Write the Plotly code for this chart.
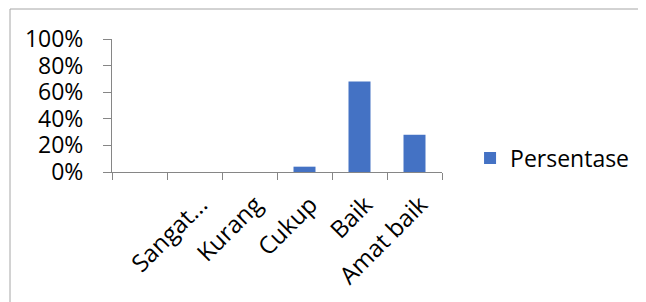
import plotly.graph_objects as go

categories = [" ", "Sangat...", "Kurang", "Cukup", "Baik", "Amat baik"]
persentase = [0, 0, 0, 0.04, 0.68, 0.28]
y_ticks = [0, 0.2, 0.4, 0.6, 0.8, 1.0]
y_tick_labels = ["0%", "20%", "40%", "60%", "80%", "100%"]

FONT = "Open Sans"
AXIS = "#868686"
FS = 23

# page body has an 8px default margin, so the figure is drawn 8px smaller
W, H = 638, 294
L, T, PW, PH = 104, 31, 330, 133

fig = go.Figure()
fig.add_trace(go.Bar(
    x=categories, y=persentase, name="Persentase",
    marker=dict(color="#4472C4", line=dict(width=0)),
    width=0.4,
))

fig.update_layout(
    width=W, height=H,
    margin=dict(l=L, r=W - L - PW, t=T, b=H - T - PH),
    paper_bgcolor="white", plot_bgcolor="white",
    font=dict(family=FONT, size=FS, color="#000000"),
    showlegend=True,
    legend=dict(x=1.085, y=0.105, xanchor="left", yanchor="middle",
                font=dict(family=FONT, size=FS, color="#000000"),
                bgcolor="rgba(0,0,0,0)", itemwidth=30),
    xaxis=dict(
        type="category", showgrid=False, showline=True, linecolor=AXIS, linewidth=1,
        ticks="outside", tickson="boundaries", ticklen=7, tickcolor=AXIS,
        tickangle=-45, tickfont=dict(family=FONT, size=24, color="#000000"),
        ticklabelstandoff=8, ticklabelshift=6,
        automargin=False,
    ),
    yaxis=dict(
        range=[0, 1], showgrid=False, showline=True, linecolor=AXIS, linewidth=1,
        ticks="outside", ticklen=8, tickcolor=AXIS, zeroline=False,
        tickvals=y_ticks, ticktext=y_tick_labels, ticklabelstandoff=15,
        tickfont=dict(family=FONT, size=FS, color="#000000"),
        automargin=False,
    ),
    shapes=[
        dict(type="line", xref="paper", yref="paper", x0=(2 - L) / PW, x1=(W - L) / PW,
             y0=(T + PH - 1) / PH, y1=(T + PH - 1) / PH, line=dict(color="#A6A6A6", width=1)),
        dict(type="line", xref="paper", yref="paper", x0=(2 - L) / PW, x1=(2 - L) / PW,
             y0=(T + PH - 1) / PH, y1=(T + PH - H) / PH, line=dict(color="#A6A6A6", width=1)),
    ],
)

fig.write_html("out.html")
